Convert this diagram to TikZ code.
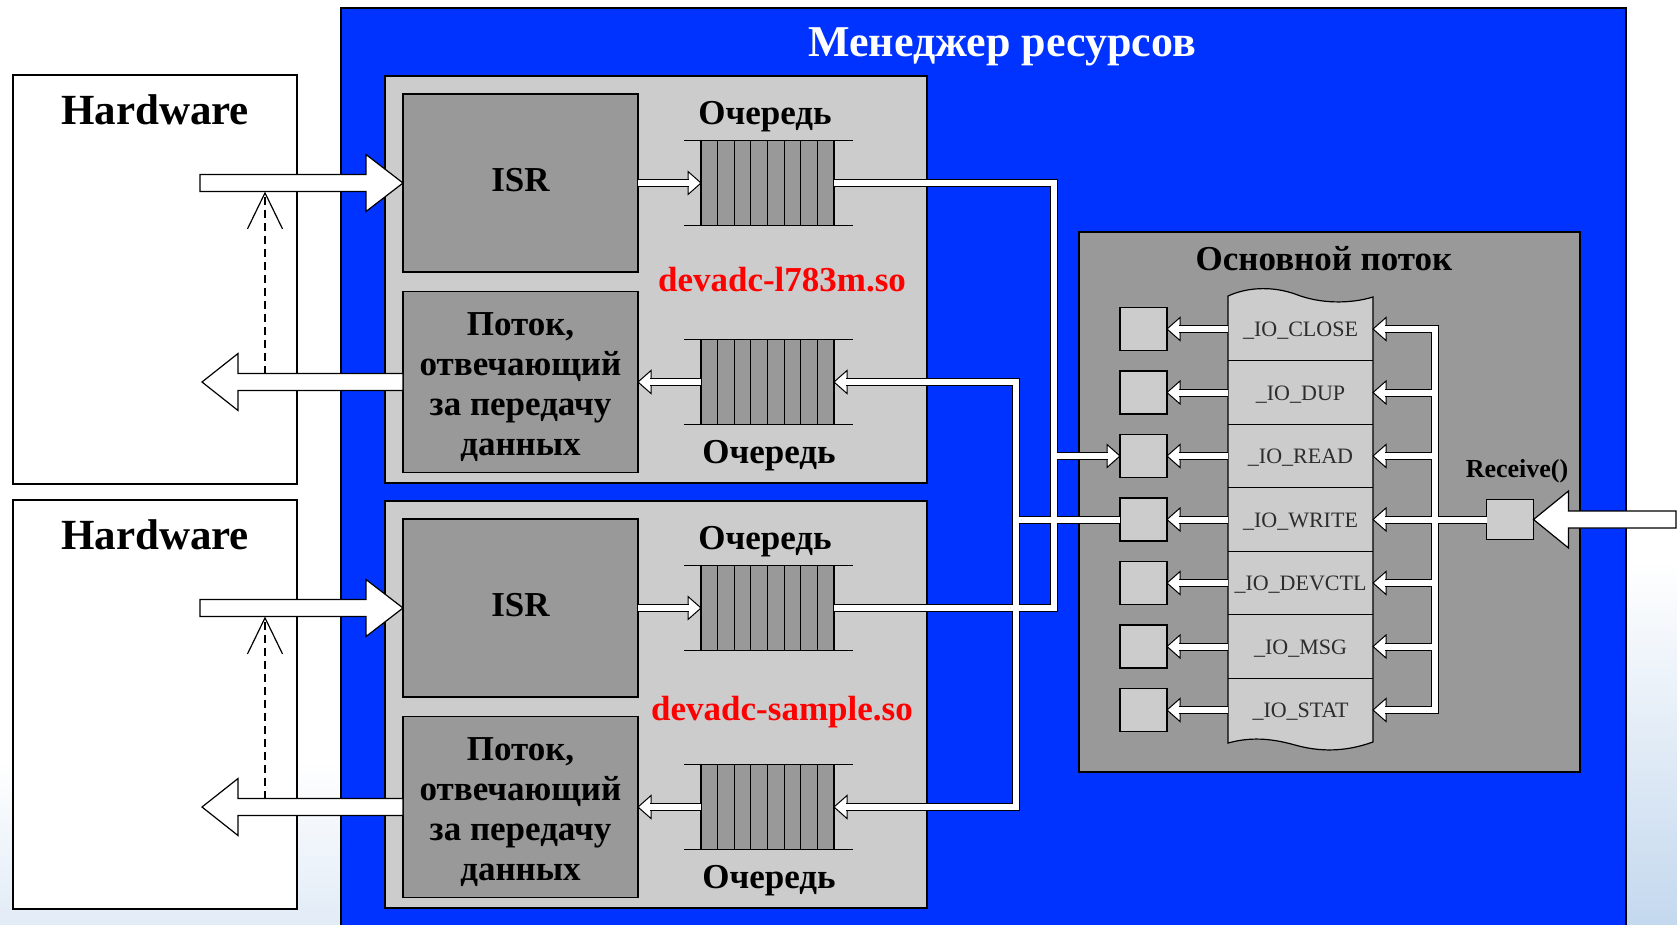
\documentclass[tikz,border=0pt]{standalone}
\usepackage{fontspec}
\setmainfont{Liberation Serif}
\usepackage{tikz}
\usetikzlibrary{arrows.meta, positioning, calc}
\definecolor{MgrBlue}{RGB}{0, 51, 255}
\definecolor{PanelGray}{RGB}{204, 204, 204}
\definecolor{BoxGray}{RGB}{153, 153, 153}
\definecolor{IoText}{RGB}{45, 45, 45}
\definecolor{SlideBlue}{RGB}{196, 216, 238}

\tikzset{
  boxline/.style={draw, line width=1.2pt, inner sep=0pt, outer sep=0pt},
  hwbox/.style={boxline, fill=white, minimum width=284pt, minimum height=409pt},
  panel/.style={boxline, fill=PanelGray, minimum width=542pt, minimum height=407pt},
  procbox/.style={boxline, fill=BoxGray, minimum width=235pt},
  queue/.style={boxline, fill=BoxGray, minimum width=133pt, minimum height=85pt},
  handler/.style={boxline, fill=PanelGray, minimum width=47pt, minimum height=43pt},
  iorow/.style={inner sep=0pt, outer sep=0pt, minimum width=145pt, minimum height=63.5pt, text=IoText, font=\fontsize{22}{22}\selectfont},
  bigtext/.style={font=\fontsize{43}{43}\selectfont\bfseries},
  boxtext/.style={font=\fontsize{35}{40}\selectfont\bfseries, align=center},
  tiphead/.style={draw, fill=white, line width=1pt, line join=miter},
  blockarrow/.style={draw, fill=white, line width=1.2pt, line join=miter},
  signal/.style={line width=1.2pt, dash pattern=on 8pt off 5pt, -{Straight Barb[length=36pt, width=35pt]}}
}
\newcommand{\fatarrow}[3]{\draw[blockarrow] let \p1=(#1), \p2=(#2) in
  (\x1,{\y1+8.5}) -- ({\x2-(#3)},{\y1+8.5}) -- ({\x2-(#3)},{\y1+28.5}) -- (\x2,\y1)
  -- ({\x2-(#3)},{\y1-28.5}) -- ({\x2-(#3)},{\y1-8.5}) -- (\x1,{\y1-8.5}) -- cycle;}

\begin{document}
\begin{tikzpicture}[x=1pt, y=-1pt]
\useasboundingbox (0,0) rectangle (1677,924);
\shade[top color=white, bottom color=SlideBlue] (1626,560) rectangle (1677,924);
\shade[top color=white, bottom color=SlideBlue!50] (0,760) rectangle (341,924);
\draw[line width=1.2pt, fill=MgrBlue] (341,8) rectangle (1626,940);
\node[bigtext, font=\fontsize{44}{44}\selectfont\bfseries, text=white] (title) at (1002,47) {Менеджер ресурсов};

\foreach \s/\dy/\lib/\ly in {1/0/devadc-l783m.so/280, 2/425/devadc-sample.so/712} {
  \node[hwbox] (hw\s) at (155,{279.5+\dy}) {};
  \node[bigtext] (hwlbl\s) at (155,{110+\dy}) {Hardware};
  \node[panel] (pan\s) at (656,{279.5+\dy}) {};
  \node[procbox, minimum height=178pt] (isr\s) at (520.5,{183+\dy}) {};
  \node[procbox, minimum height=181pt] (thr\s) at (520.5,{382+\dy}) {};
  \node[boxtext] (isrlbl\s) at ([yshift=3pt]isr\s.center) {ISR};
  \node[boxtext] (thrlbl\s) at ([yshift=-5pt]thr\s.center) {Поток,\\отвечающий\\за передачу\\данных};
  \node[queue] (qin\s) at (767.5,{183+\dy}) {};
  \node[queue] (qout\s) at (767.5,{382+\dy}) {};
  \foreach \q in {qin\s, qout\s} {
    \foreach \k in {1,...,7} \draw[line width=1.2pt] ($(\q.north west)!\k/8!(\q.north east)$) -- ($(\q.south west)!\k/8!(\q.south east)$);
    \draw[line width=1.2pt] ([xshift=-17pt]\q.north west) -- ([xshift=19pt]\q.north east) ([xshift=-17pt]\q.south west) -- ([xshift=19pt]\q.south east);
  }
  \node[boxtext] (qinlbl\s) at (765,{117+\dy}) {Очередь};
  \node[boxtext] (qoutlbl\s) at (769,{456+\dy}) {Очередь};
  \node[boxtext, text=red] (lib\s) at (782,\ly) {\lib};
  \coordinate (hwin\s) at (200,{183+\dy});
  \coordinate (hwout\s) at (202,{382+\dy});
  \coordinate (sigtop\s) at (265,{191.5+\dy});
  \coordinate (sigbot\s) at (265,{373.5+\dy});
}

\node[boxline, fill=BoxGray, minimum width=501pt, minimum height=540pt] (main) at (1329.5,502) {};
\node[boxtext] (mainlbl) at (1324,259) {Основной поток};
\draw[boxline, fill=PanelGray] (1228,296) .. controls (1250,286) and (1275,287) .. (1295,294) .. controls (1320,304) and (1350,304) .. (1373,297) -- (1373,742) .. controls (1345,752) and (1320,752) .. (1295,745) .. controls (1270,738) and (1250,737) .. (1228,743) -- cycle;
\foreach \i/\op in {1/CLOSE, 2/DUP, 3/READ, 4/WRITE, 5/DEVCTL, 6/MSG, 7/STAT} {
  \node[iorow] (io\i) at (1300.5,{329+63.5*(\i-1)}) {};
  \node[iorow] (iolbl\i) at ([yshift=-2pt]io\i.center) {\_IO\_\op};
  \node[handler] (h\i) at (1143.5,{329+63.5*(\i-1)}) {};
}
\foreach \i in {1,...,6} \draw[line width=1.2pt] (io\i.south west) -- (io\i.south east);
\node[handler, minimum height=40pt] (rcv) at (1510,519.5) {};
\node[font=\fontsize{26}{26}\selectfont\bfseries] (rcvlbl) at (1517,471) {Receive()};
\coordinate (busA) at (1054,0);
\coordinate (busB) at (1016,0);
\coordinate (busR) at (1435,0);
\coordinate (ext) at (1676,519.5);

\foreach \p in {qin1.west, qin2.west, h3.west} \draw[tiphead] (\p) -- ++(-13,-11.5) -- ++(0,23) -- cycle;
\foreach \p in {thr1.east, thr2.east, qout1.east, qout2.east} \draw[tiphead] (\p) -- ++(13,-11.5) -- ++(0,23) -- cycle;
\foreach \i in {1,...,7} {
  \draw[tiphead] (h\i.east) -- ++(13,-11.5) -- ++(0,23) -- cycle;
  \draw[tiphead] (io\i.east) -- ++(13,-11.5) -- ++(0,23) -- cycle;
}

\foreach \w/\col in {8/black, 6/white} {
  \begin{scope}[line width=\w pt, draw=\col, line join=miter]
    \foreach \s in {1,2} {
      \draw (isr\s.east) -- ([xshift=-12pt]qin\s.west);
      \draw (qout\s.west) -- ([xshift=12pt]thr\s.east);
    }
    \draw (qin1.east) -- (busA |- qin1.east) -- (busA |- qin2.east) -- (qin2.east);
    \draw (busA |- h3.west) -- ([xshift=-12pt]h3.west);
    \draw ([xshift=12pt]qout1.east) -- (busB |- qout1.east) -- (busB |- qout2.east) -- ([xshift=12pt]qout2.east);
    \draw (h4.west) -- (busB |- h4.west);
    \draw ([xshift=12pt]io1.east) -- (busR |- io1.east) -- (busR |- io7.east) -- ([xshift=12pt]io7.east);
    \foreach \i in {2,...,6} \draw (busR |- io\i.east) -- ([xshift=12pt]io\i.east);
    \foreach \i in {1,...,7} \draw (io\i.west) -- ([xshift=12pt]h\i.east);
    \draw (rcv.west) -- (busR |- rcv.west);
  \end{scope}
}

\foreach \s in {1,2} {
  \fatarrow{hwin\s}{isr\s.west}{37}
  \fatarrow{thr\s.west}{hwout\s}{-36}
  \draw[signal] (sigbot\s) -- (sigtop\s);
}
\fatarrow{ext}{rcv.east}{-35}
\end{tikzpicture}
\end{document}
